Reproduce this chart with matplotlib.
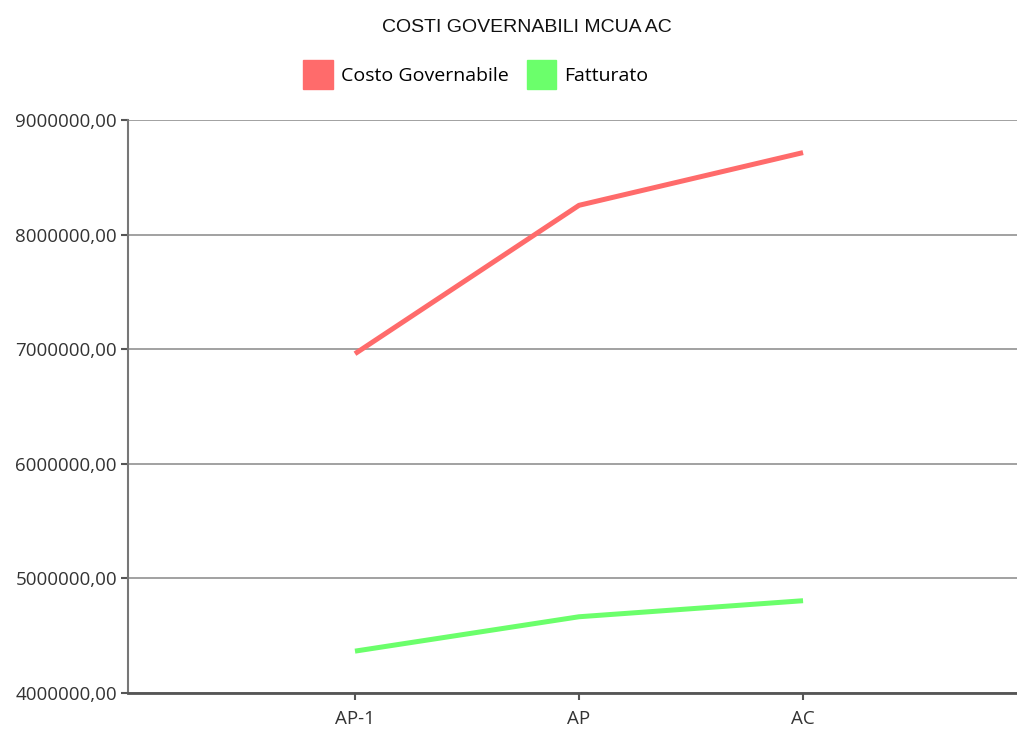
import matplotlib.pyplot as plt
from matplotlib.patches import Patch
from matplotlib.ticker import FuncFormatter

# dati
periodi = ["AP-1", "AP", "AC"]
costo_governabile = [6960000, 8255000, 8715000]
fatturato = [4365000, 4665000, 4805000]

rosso = "#ff6b6b"
verde = "#6bff6b"

fig = plt.figure(figsize=(10.17, 7.34), dpi=100)
ax = fig.add_axes([0.1259, 0.0559, 0.8741, 0.7807])

x = range(len(periodi))
ax.plot(x, costo_governabile, color=rosso, linewidth=3.6, solid_capstyle="butt")
ax.plot(x, fatturato, color=verde, linewidth=3.6, solid_capstyle="butt")

ax.set_xlim(-1.013, 2.955)
ax.set_ylim(4000000, 9000000)
ax.set_xticks(list(x))
ax.set_xticklabels(periodi)
ax.set_yticks([4000000, 5000000, 6000000, 7000000, 8000000, 9000000])
ax.yaxis.set_major_formatter(FuncFormatter(lambda v, p: f"{int(v)},00"))

ax.grid(axis="y", color="#9a9a9a", linewidth=1.3)
ax.set_axisbelow(True)
for s in ["top", "right"]:
    ax.spines[s].set_visible(False)
ax.spines["left"].set_color("#777777")
ax.spines["left"].set_linewidth(1.5)
ax.spines["bottom"].set_color("#555555")
ax.spines["bottom"].set_linewidth(2)

ax.tick_params(axis="both", colors="#555555", labelcolor="#333333", labelsize=13.5, length=5, width=1.5)
ax.tick_params(axis="y", pad=3)
ax.tick_params(axis="x", pad=7)
for lab in ax.get_xticklabels() + ax.get_yticklabels():
    lab.set_fontfamily("Open Sans")

fig.text(0.518, 0.962, "COSTI GOVERNABILI MCUA AC", ha="center", va="center",
         fontsize=14, family="Liberation Sans", color="#111111")

maniglie = [Patch(color=rosso, label="Costo Governabile"), Patch(color=verde, label="Fatturato")]
fig.legend(handles=maniglie, loc="center", bbox_to_anchor=(0.468, 0.898), ncol=2, frameon=False,
           prop={"family": "Open Sans", "size": 14}, handlelength=1.5, handleheight=1.9,
           handletextpad=0.45, columnspacing=0.9)

fig.savefig("out.png", dpi=100)
